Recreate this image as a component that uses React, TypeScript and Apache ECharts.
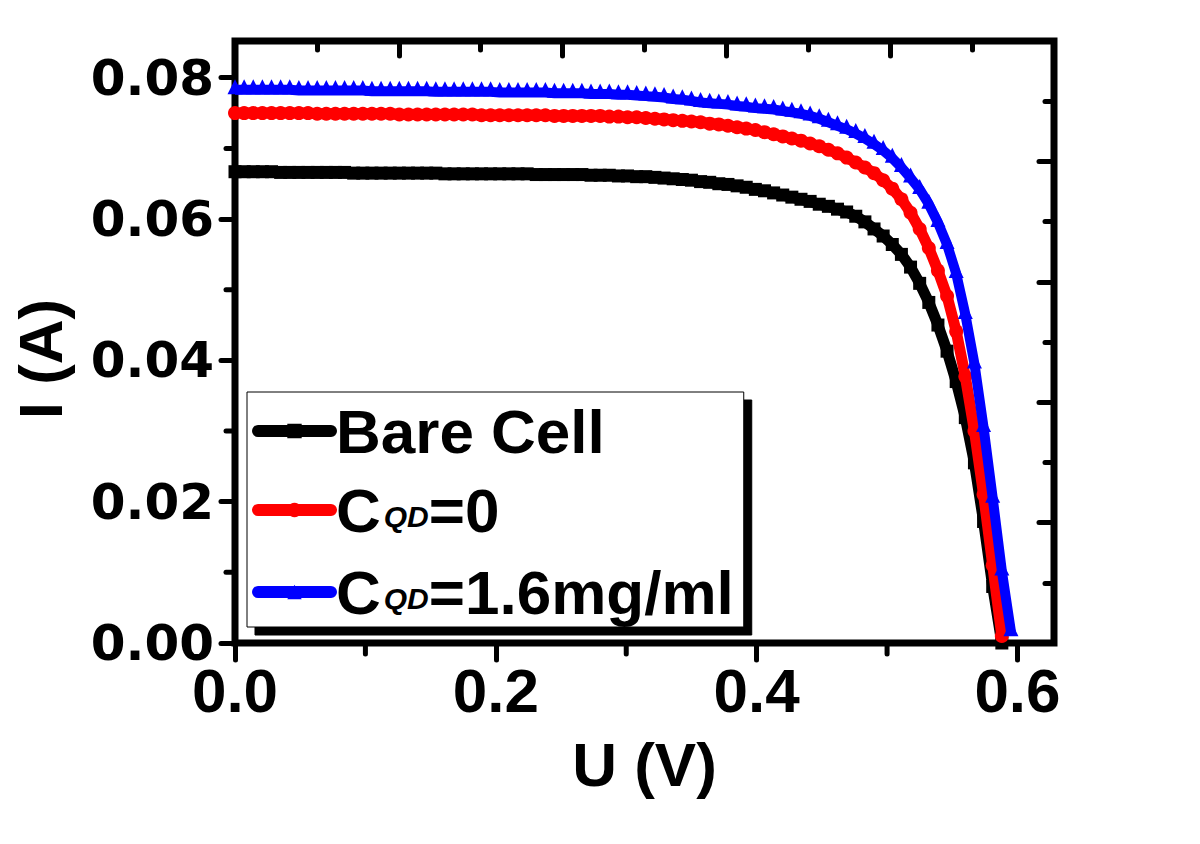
import React, { useEffect, useRef } from 'react';
import * as echarts from 'echarts';

// Voltage in mV (shared sampling of the three I-V sweeps)
const voltageMV = [
  0, 7, 14, 21, 28, 35, 42, 49, 56, 63, 70, 77, 84, 91, 98, 105, 112, 119, 126, 133,
  140, 147, 154, 161, 168, 175, 182, 189, 196, 203, 210, 217, 224, 231, 238, 245, 252, 259, 266, 273,
  280, 287, 294, 301, 308, 315, 322, 329, 336, 343, 350, 357, 364, 371, 378, 385, 392, 399, 406, 413,
  420, 427, 434, 441, 448, 455, 462, 469, 476, 483, 490, 497, 504, 511, 518, 525, 532, 539, 546, 553,
  560, 567, 574, 581, 588, 595,
];

// Current in A
const bareCell = [
  0.0667, 0.0667, 0.0667, 0.0667, 0.0667,
  0.0666, 0.0666, 0.0666, 0.0666, 0.0666, 0.0666, 0.0666, 0.0666,
  0.0665, 0.0665, 0.0665, 0.0665, 0.0665, 0.0665, 0.0665, 0.0665, 0.0665, 0.0665,
  0.0664, 0.0664, 0.0664, 0.0664, 0.0664, 0.0664, 0.0664, 0.0664, 0.0664, 0.0664,
  0.0663, 0.0663, 0.0663, 0.0663, 0.0663, 0.0663,
  0.0662, 0.0662, 0.0662,
  0.0661, 0.0661, 0.066, 0.066, 0.0659, 0.0658, 0.0657, 0.0656, 0.0655, 0.0653,
  0.0652, 0.065, 0.0649, 0.0647, 0.0645, 0.0642, 0.064, 0.0637, 0.0634, 0.0631,
  0.0628, 0.0625, 0.0621, 0.0618, 0.0614, 0.061, 0.0604, 0.0596, 0.0586, 0.0576,
  0.0564, 0.055, 0.0532, 0.0509, 0.0482, 0.045, 0.0413, 0.037, 0.0319, 0.0255,
  0.0172, 0.008, 0.0, null,
];

const cqd0 = [
  0.075, 0.075, 0.075, 0.075, 0.075, 0.075, 0.075, 0.075, 0.075,
  0.0749, 0.0749, 0.0749, 0.0749, 0.0749, 0.0749, 0.0749, 0.0749, 0.0749,
  0.0748, 0.0748, 0.0748, 0.0748, 0.0748, 0.0748, 0.0748, 0.0748, 0.0748,
  0.0747, 0.0747, 0.0747, 0.0747, 0.0747, 0.0747, 0.0747, 0.0747,
  0.0746, 0.0746, 0.0746, 0.0746, 0.0746, 0.0746,
  0.0745, 0.0745,
  0.0744, 0.0744, 0.0743, 0.0742, 0.0741, 0.074, 0.0739, 0.0738, 0.0737, 0.0735,
  0.0734, 0.0732, 0.073, 0.0728, 0.0726, 0.0723, 0.072, 0.0717, 0.0714, 0.0711,
  0.0707, 0.0703, 0.0698, 0.0693, 0.0687, 0.068, 0.0673, 0.0665, 0.0655, 0.0643,
  0.0628, 0.0609, 0.0586, 0.0559, 0.0527, 0.0491, 0.0441, 0.0377, 0.03, 0.021,
  0.011, 0.001, null,
];

const cqd16 = [
  0.0783, 0.0783, 0.0783, 0.0783, 0.0783, 0.0783, 0.0783,
  0.0782, 0.0782, 0.0782, 0.0782, 0.0782, 0.0782, 0.0782, 0.0782,
  0.0781, 0.0781, 0.0781, 0.0781, 0.0781, 0.0781, 0.0781,
  0.078, 0.078, 0.078, 0.078, 0.078, 0.078, 0.078,
  0.0779, 0.0779, 0.0779, 0.0779, 0.0779, 0.0779,
  0.0778, 0.0778, 0.0778, 0.0778,
  0.0777, 0.0777, 0.0777,
  0.0776, 0.0776, 0.0775, 0.0774, 0.0773, 0.0772, 0.077, 0.0769, 0.0767, 0.0765,
  0.0764, 0.0763, 0.0762, 0.076, 0.0759, 0.0757, 0.0756, 0.0755, 0.0753, 0.0751,
  0.0749, 0.0746, 0.0742, 0.0737, 0.0732, 0.0727, 0.0721, 0.0714, 0.0706, 0.0697,
  0.0686, 0.0673, 0.0658, 0.0642, 0.0621, 0.0595, 0.0564, 0.0523, 0.0465, 0.0395,
  0.0305, 0.0205, 0.0102, 0.0016,
];

const seriesNames = ['Bare Cell', 'C_QD=0', 'C_QD=1.6mg/ml'];
const xMajorTicks = [0, 0.2, 0.4, 0.6];
const xMinorTicks = [0.1, 0.3, 0.5];
const yMajorTicks = [0, 0.02, 0.04, 0.06, 0.08];
const yMinorTicks = [0.01, 0.03, 0.05, 0.07];

const X_MAX = 0.628;
const Y_MAX = 0.0852;

const toPairs = (vals: (number | null)[]) =>
  voltageMV
    .map((mv, i) => [mv / 1000, vals[i]] as [number, number | null])
    .filter((p) => p[1] !== null);

const tickLine = { color: '#000', width: 5, cap: 'round' as const };
const boldArial = { fontFamily: 'Liberation Sans', fontWeight: 'bold' as const, color: '#000' };
const noLine = { show: false, onZero: false };

const minorTickSeries = (axis: 'x' | 'y', values: number[], len: number) => ({
  type: 'custom',
  xAxisIndex: 0,
  yAxisIndex: 0,
  silent: true,
  clip: false,
  z: 6,
  data: values.map((v) => (axis === 'x' ? [v, 0] : [0, v])),
  renderItem: (_params: any, api: any) => {
    const p = api.coord([api.value(0), api.value(1)]);
    const shape =
      axis === 'x'
        ? { x1: p[0], y1: p[1], x2: p[0], y2: p[1] + len }
        : { x1: p[0] - len, y1: p[1], x2: p[0], y2: p[1] };
    return { type: 'line', shape, style: { stroke: '#000', lineWidth: 5, lineCap: 'round' } };
  },
});

const option: any = {
  animation: false,
  backgroundColor: '#ffffff',
  grid: {
    left: 235,
    top: 41,
    right: 146,
    bottom: 201,
    show: true,
    borderColor: '#000',
    borderWidth: 7,
    backgroundColor: 'transparent',
  },
  xAxis: [
    {
      type: 'value',
      min: 0,
      max: X_MAX,
      position: 'bottom',
      axisLine: noLine,
      splitLine: { show: false },
      axisTick: { show: true, inside: false, length: 17, lineStyle: tickLine, customValues: xMajorTicks },
      axisLabel: {
        customValues: xMajorTicks,
        formatter: (v: number) => v.toFixed(1),
        margin: 16,
        fontSize: 62,
        ...boldArial,
      },
      name: 'U (V)',
      nameLocation: 'middle',
      nameGap: 90,
      nameTextStyle: { fontSize: 62, ...boldArial },
    },
    {
      type: 'value',
      min: 0,
      max: 10,
      interval: 2,
      position: 'top',
      axisLine: noLine,
      splitLine: { show: false },
      axisTick: { show: true, inside: true, length: 15, lineStyle: tickLine },
      minorTick: { show: true, splitNumber: 2, length: 9, lineStyle: tickLine },
      minorSplitLine: { show: false },
      axisLabel: { show: false },
    },
  ],
  yAxis: [
    {
      type: 'value',
      min: 0,
      max: Y_MAX,
      position: 'left',
      axisLine: noLine,
      splitLine: { show: false },
      axisTick: { show: true, inside: false, length: 14, lineStyle: tickLine, customValues: yMajorTicks },
      axisLabel: {
        customValues: yMajorTicks,
        formatter: (v: number) => v.toFixed(2),
        margin: 21,
        fontFamily: 'DejaVu Sans',
        fontWeight: 'bold',
        fontSize: 50,
        color: '#000',
      },
      name: 'I (A)',
      nameLocation: 'middle',
      nameGap: 164,
      nameTextStyle: { fontSize: 62, padding: [0, 34, 0, 0], ...boldArial },
    },
    {
      type: 'value',
      min: 0,
      max: 10,
      interval: 2,
      position: 'right',
      axisLine: noLine,
      splitLine: { show: false },
      axisTick: { show: true, inside: true, length: 15, lineStyle: tickLine },
      minorTick: { show: true, splitNumber: 2, length: 9, lineStyle: tickLine },
      minorSplitLine: { show: false },
      axisLabel: { show: false },
    },
  ],
  legend: {
    left: 247,
    top: 392,
    orient: 'vertical',
    itemWidth: 73,
    itemHeight: 18,
    itemGap: 17,
    padding: [8, 10, 1, 5],
    backgroundColor: '#fff',
    borderColor: '#000',
    borderWidth: 1,
    borderRadius: 0,
    shadowColor: '#000',
    shadowBlur: 0,
    shadowOffsetX: 8,
    shadowOffsetY: 8,
    z: 10,
    data: seriesNames,
    lineStyle: { width: 12, cap: 'round' },
    formatter: (name: string) => {
      if (name.startsWith('C_QD')) {
        return '{b|C}{s|QD}{b|' + name.slice(4) + '}';
      }
      return '{b|' + name + '}';
    },
    textStyle: {
      color: '#000',
      rich: {
        b: { fontFamily: 'Liberation Sans', fontWeight: 'bold', fontSize: 62, lineHeight: 68, color: '#000' },
        s: {
          fontFamily: 'Liberation Sans',
          fontWeight: 'bold',
          fontStyle: 'italic',
          fontSize: 30,
          lineHeight: 30,
          verticalAlign: 'bottom',
          padding: [0, 0, 13, 3],
          color: '#000',
        },
      },
    },
  },
  series: [
    {
      type: 'line',
      name: seriesNames[0],
      xAxisIndex: 0,
      yAxisIndex: 0,
      data: toPairs(bareCell),
      symbol: 'rect',
      symbolSize: 13,
      lineStyle: { width: 11, color: '#000', join: 'round' },
      itemStyle: { color: '#000' },
      z: 2,
    },
    {
      type: 'line',
      name: seriesNames[1],
      xAxisIndex: 0,
      yAxisIndex: 0,
      data: toPairs(cqd0),
      symbol: 'circle',
      symbolSize: 14,
      lineStyle: { width: 11, color: '#ff0000', join: 'round' },
      itemStyle: { color: '#ff0000' },
      z: 3,
    },
    {
      type: 'line',
      name: seriesNames[2],
      xAxisIndex: 0,
      yAxisIndex: 0,
      data: toPairs(cqd16),
      symbol: 'triangle',
      symbolSize: [15, 15],
      symbolOffset: [0, -3],
      lineStyle: { width: 10, color: '#0000ff', join: 'round' },
      itemStyle: { color: '#0000ff' },
      z: 4,
    },
    minorTickSeries('x', xMinorTicks, 11),
    minorTickSeries('y', yMinorTicks, 9),
  ],
};

export default function App() {
  const ref = useRef<HTMLDivElement>(null);
  useEffect(() => {
    const chart = echarts.init(ref.current!, null, { renderer: 'svg' });
    chart.setOption(option);
    return () => chart.dispose();
  }, []);
  return (
    <div
      ref={ref}
      style={{ position: 'fixed', left: 0, top: 0, width: 1200, height: 844, background: '#fff' }}
    />
  );
}
